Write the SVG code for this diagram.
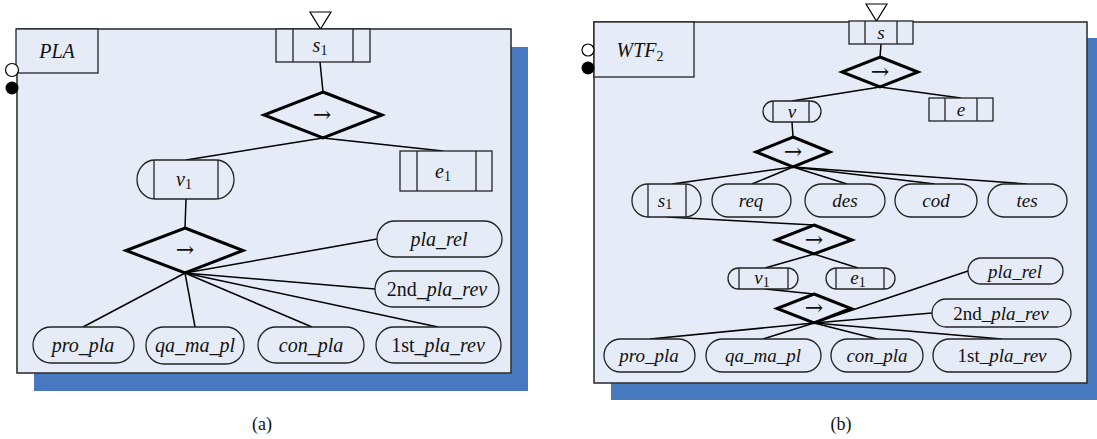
<svg xmlns="http://www.w3.org/2000/svg" width="1097" height="439" viewBox="0 0 1097 439">
<style>
.bg{fill:#fff}
.shadow{fill:#4878C0}
.panel{fill:#E6ECF7;stroke:#333;stroke-width:1.6}
.box{fill:#E6ECF7;stroke:#222;stroke-width:1.3}
.dia{fill:#E6ECF7;stroke:#000;stroke-width:3;stroke-linejoin:miter}
.ln{stroke:#000;stroke-width:1.5;fill:none}
.sep{stroke:#222;stroke-width:1.3}
.tri{fill:#fff;stroke:#000;stroke-width:1.2}
text{font-family:"Liberation Serif","Times New Roman",Times,serif;fill:#111;text-anchor:middle}
.i{font-style:italic}
.t20{font-size:20px}
.t19{font-size:19px}
.sub{font-size:14px;font-style:normal}
.cap{font-size:18px}
.arr{font-family:"DejaVu Serif","DejaVu Sans",serif;font-size:22px;font-weight:normal}
</style>
<rect class="bg" x="0" y="0" width="1097" height="439"/>

<!-- Panel (a) -->
<g id="panelA">
  <rect class="shadow" x="34" y="47" width="494" height="344"/>
  <rect class="panel" x="17" y="29" width="494" height="344"/>
  <rect class="box" x="16" y="29" width="82" height="44"/>
  <text class="t20 i" x="57" y="58">PLA</text>
  <circle cx="12" cy="70" r="6.5" fill="#fff" stroke="#000" stroke-width="1.2"/>
  <circle cx="12" cy="88" r="6.5" fill="#000"/>
</g>

<!-- Panel (b) -->
<g id="panelB">
  <rect class="shadow" x="611" y="38" width="494" height="362"/>
  <rect class="panel" x="594" y="22" width="493" height="361"/>
  <rect class="box" x="594" y="22" width="100" height="55"/>
  <text class="t20 i" x="640" y="57">WTF<tspan class="sub" dy="4">2</tspan></text>
  <circle cx="588" cy="50" r="6" fill="#fff" stroke="#000" stroke-width="1.2"/>
  <circle cx="588" cy="68" r="6.5" fill="#000"/>
</g>

<g id="connectors">
  <!-- panel a -->
  <line class="ln" x1="320" y1="62" x2="323" y2="92"/>
  <line class="ln" x1="323" y1="138" x2="186" y2="160"/>
  <line class="ln" x1="323" y1="138" x2="443" y2="151"/>
  <line class="ln" x1="186" y1="199" x2="185" y2="228"/>
  <line class="ln" x1="185" y1="273" x2="377" y2="239"/>
  <line class="ln" x1="185" y1="273" x2="375" y2="289"/>
  <line class="ln" x1="185" y1="273" x2="438" y2="327"/>
  <line class="ln" x1="185" y1="273" x2="312" y2="327"/>
  <line class="ln" x1="185" y1="273" x2="195" y2="327"/>
  <line class="ln" x1="185" y1="273" x2="83" y2="327"/>
  <!-- panel b -->
  <line class="ln" x1="881" y1="44" x2="880" y2="57"/>
  <line class="ln" x1="880" y1="87" x2="792" y2="101"/>
  <line class="ln" x1="880" y1="87" x2="961" y2="98"/>
  <line class="ln" x1="792" y1="122" x2="793" y2="137"/>
  <line class="ln" x1="793" y1="167" x2="672" y2="184"/>
  <line class="ln" x1="793" y1="167" x2="752" y2="184"/>
  <line class="ln" x1="793" y1="167" x2="847" y2="184"/>
  <line class="ln" x1="793" y1="167" x2="935" y2="184"/>
  <line class="ln" x1="793" y1="167" x2="1027" y2="184"/>
  <line class="ln" x1="667" y1="217" x2="814" y2="225"/>
  <line class="ln" x1="814" y1="254" x2="765" y2="268"/>
  <line class="ln" x1="814" y1="254" x2="858" y2="268"/>
  <line class="ln" x1="765" y1="289" x2="814" y2="294"/>
  <line class="ln" x1="814" y1="323" x2="650" y2="339"/>
  <line class="ln" x1="814" y1="323" x2="763" y2="339"/>
  <line class="ln" x1="814" y1="323" x2="877" y2="339"/>
  <line class="ln" x1="814" y1="323" x2="1002" y2="339"/>
  <line class="ln" x1="814" y1="323" x2="932" y2="313"/>
</g>

<!-- ===== Panel (a) nodes ===== -->
<g id="a_s1">
  <polygon class="tri" points="310,12 331,12 320.5,29"/>
  <rect class="box" x="276" y="29" width="94" height="33"/>
  <line class="sep" x1="293" y1="29" x2="293" y2="62"/>
  <line class="sep" x1="353" y1="29" x2="353" y2="62"/>
  <text class="t20 i" x="320" y="52">s<tspan class="sub" dy="3">1</tspan></text>
</g>
<g id="a_seq1">
  <polygon class="dia" points="323,92 382,115 323,138 264,115"/>
  <text class="arr" x="322" y="122">→</text>
</g>
<g id="a_e1">
  <rect class="box" x="400" y="151" width="92" height="40"/>
  <line class="sep" x1="417" y1="151" x2="417" y2="191"/>
  <line class="sep" x1="476" y1="151" x2="476" y2="191"/>
  <text class="t20 i" x="443" y="178">e<tspan class="sub" dy="3">1</tspan></text>
</g>
<g id="a_v1">
  <rect class="box" x="137" y="160" width="97" height="39" rx="18" ry="19.5"/>
  <line class="sep" x1="154" y1="160" x2="154" y2="199"/>
  <line class="sep" x1="218" y1="160" x2="218" y2="199"/>
  <text class="t20 i" x="184" y="186">v<tspan class="sub" dy="3">1</tspan></text>
</g>
<g id="a_seq2">
  <polygon class="dia" points="185,228 243,250.5 185,273 126,250.5"/>
  <text class="arr" x="185" y="257">→</text>
</g>
<g id="a_pla_rel">
  <rect class="box" x="377" y="221" width="125" height="36" rx="18"/>
  <text class="t20 i" x="439" y="246">pla_rel</text>
</g>
<g id="a_2nd">
  <rect class="box" x="375" y="271" width="124" height="36" rx="18"/>
  <text class="t20" x="437" y="296">2nd<tspan class="i">_pla_rev</tspan></text>
</g>
<g id="a_pro_pla">
  <rect class="box" x="33" y="327" width="101" height="36" rx="18"/>
  <text class="t20 i" x="83" y="352">pro_pla</text>
</g>
<g id="a_qa">
  <rect class="box" x="146" y="327" width="98" height="37" rx="18"/>
  <text class="t20 i" x="195" y="352">qa_ma_pl</text>
</g>
<g id="a_con">
  <rect class="box" x="258" y="327" width="106" height="36" rx="18"/>
  <text class="t20 i" x="311" y="352">con_pla</text>
</g>
<g id="a_1st">
  <rect class="box" x="376" y="327" width="125" height="36" rx="18"/>
  <text class="t20" x="438" y="352">1st<tspan class="i">_pla_rev</tspan></text>
</g>

<!-- ===== Panel (b) nodes ===== -->
<g id="b_s">
  <polygon class="tri" points="866,4 887,4 876.5,21"/>
  <rect class="box" x="849" y="21" width="64" height="23"/>
  <line class="sep" x1="865" y1="21" x2="865" y2="44"/>
  <line class="sep" x1="897" y1="21" x2="897" y2="44"/>
  <text class="t19 i" x="881" y="39">s</text>
</g>
<g id="b_seq1">
  <polygon class="dia" points="880,57 918,72 880,87 842,72"/>
  <text class="arr" x="880" y="79">→</text>
</g>
<g id="b_e">
  <rect class="box" x="929" y="98" width="64" height="23"/>
  <line class="sep" x1="945" y1="98" x2="945" y2="121"/>
  <line class="sep" x1="977" y1="98" x2="977" y2="121"/>
  <text class="t19 i" x="961" y="116">e</text>
</g>
<g id="b_v">
  <rect class="box" x="763" y="101" width="58" height="21" rx="10.5"/>
  <line class="sep" x1="773" y1="101" x2="773" y2="122"/>
  <line class="sep" x1="809" y1="101" x2="809" y2="122"/>
  <text class="t19 i" x="792" y="118">v</text>
</g>
<g id="b_seq2">
  <polygon class="dia" points="793,137 830,152 793,167 756,152"/>
  <text class="arr" x="793" y="159">→</text>
</g>
<g id="b_s1">
  <rect class="box" x="632" y="184" width="69" height="33" rx="16"/>
  <line class="sep" x1="648" y1="184" x2="648" y2="217"/>
  <line class="sep" x1="686" y1="184" x2="686" y2="217"/>
  <text class="t19 i" x="665" y="207">s<tspan class="sub" dy="2">1</tspan></text>
</g>
<g id="b_req">
  <rect class="box" x="712" y="184" width="79" height="33" rx="16.5"/>
  <text class="t19 i" x="751" y="207">req</text>
</g>
<g id="b_des">
  <rect class="box" x="805" y="184" width="80" height="33" rx="16.5"/>
  <text class="t19 i" x="845" y="207">des</text>
</g>
<g id="b_cod">
  <rect class="box" x="895" y="184" width="82" height="33" rx="16.5"/>
  <text class="t19 i" x="936" y="207">cod</text>
</g>
<g id="b_tes">
  <rect class="box" x="988" y="184" width="79" height="33" rx="16.5"/>
  <text class="t19 i" x="1027" y="207">tes</text>
</g>
<g id="b_seq3">
  <polygon class="dia" points="814,225 852,240 814,254 776,240"/>
  <text class="arr" x="814" y="247">→</text>
</g>
<g id="b_v1">
  <rect class="box" x="728" y="268" width="70" height="21" rx="10.5"/>
  <line class="sep" x1="739" y1="268" x2="739" y2="289"/>
  <line class="sep" x1="788" y1="268" x2="788" y2="289"/>
  <text class="t19 i" x="762" y="284">v<tspan class="sub" dy="3">1</tspan></text>
</g>
<g id="b_e1">
  <rect class="box" x="826" y="268" width="69" height="21" rx="10.5"/>
  <line class="sep" x1="836" y1="268" x2="836" y2="289"/>
  <line class="sep" x1="884" y1="268" x2="884" y2="289"/>
  <text class="t19 i" x="858" y="284">e<tspan class="sub" dy="3">1</tspan></text>
</g>
<g id="b_seq4">
  <polygon class="dia" points="814,294 851,308.5 814,323 777,308.5"/>
  <text class="arr" x="814" y="315">→</text>
</g>
<g id="b_pla_rel">
  <rect class="box" x="968" y="258" width="95" height="26" rx="13"/>
  <text class="t19 i" x="1015" y="278">pla_rel</text>
</g>
<line class="ln" x1="814" y1="323" x2="968" y2="271"/>
<g id="b_2nd">
  <rect class="box" x="932" y="299" width="139" height="28" rx="14"/>
  <text class="t19" x="1001" y="320">2nd<tspan class="i">_pla_rev</tspan></text>
</g>
<g id="b_pro_pla">
  <rect class="box" x="604" y="339" width="91" height="33" rx="16.5"/>
  <text class="t19 i" x="649" y="362">pro_pla</text>
</g>
<g id="b_qa">
  <rect class="box" x="706" y="339" width="115" height="33" rx="16.5"/>
  <text class="t19 i" x="763" y="362">qa_ma_pl</text>
</g>
<g id="b_con">
  <rect class="box" x="831" y="339" width="92" height="33" rx="16.5"/>
  <text class="t19 i" x="877" y="362">con_pla</text>
</g>
<g id="b_1st">
  <rect class="box" x="933" y="339" width="138" height="33" rx="16.5"/>
  <text class="t19" x="1002" y="362">1st<tspan class="i">_pla_rev</tspan></text>
</g>

<text class="cap" x="262" y="430">(a)</text>
<text class="cap" x="841" y="430">(b)</text>
</svg>
